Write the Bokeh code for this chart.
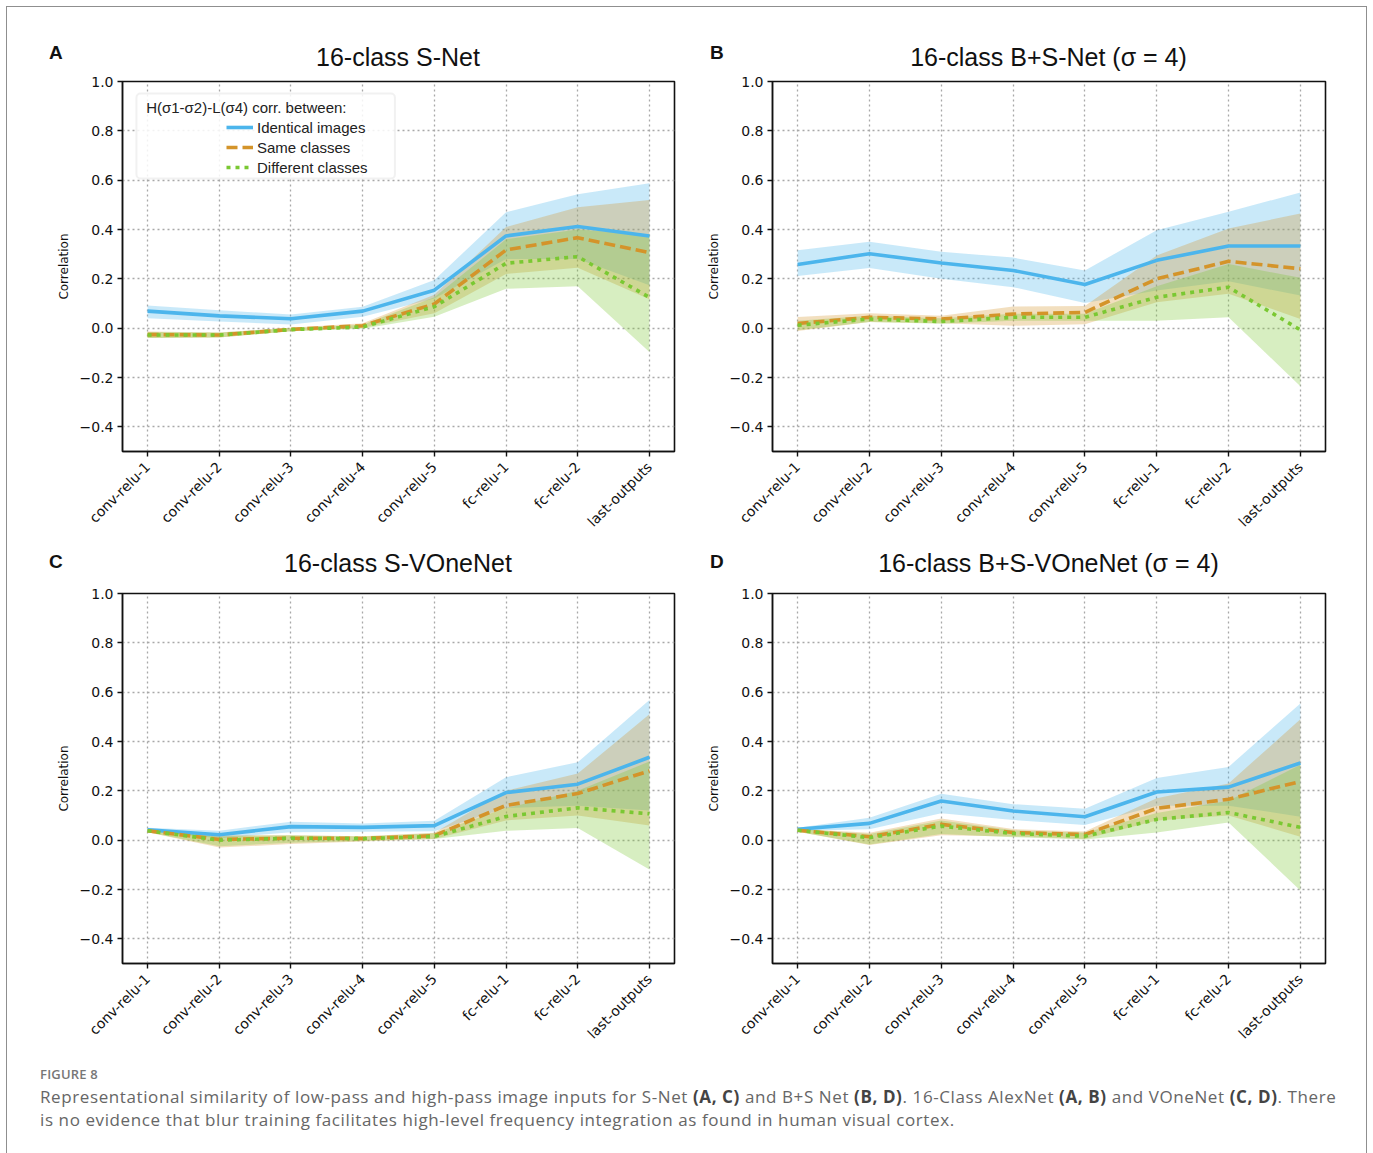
import math
from bokeh.plotting import figure
from bokeh.layouts import column, row
from bokeh.models import (Range1d, FixedTicker, CustomJSTickFormatter, Label, Legend, LegendItem,
                          BoxAnnotation, Div)
from bokeh.embed import file_html
from bokeh.resources import INLINE

layers = ["conv-relu-1", "conv-relu-2", "conv-relu-3", "conv-relu-4", "conv-relu-5",
          "fc-relu-1", "fc-relu-2", "last-outputs"]
y_ticks = [-0.4, -0.2, 0.0, 0.2, 0.4, 0.6, 0.8, 1.0]

panel_letters = ["A", "B", "C", "D"]
panel_titles = ["16-class S-Net", "16-class B+S-Net (σ = 4)",
                "16-class S-VOneNet", "16-class B+S-VOneNet (σ = 4)"]
series_names = ["Identical images", "Same classes", "Different classes"]
legend_title = "H(σ1-σ2)-L(σ4) corr. between:"

# Panel A: 16-class S-Net
a_ident = [0.069, 0.050, 0.038, 0.069, 0.154, 0.374, 0.412, 0.374]
a_ident_lo = [0.040, 0.027, 0.015, 0.046, 0.120, 0.280, 0.280, 0.174]
a_ident_hi = [0.092, 0.073, 0.055, 0.087, 0.195, 0.470, 0.543, 0.588]
a_same = [-0.026, -0.028, -0.005, 0.010, 0.098, 0.317, 0.367, 0.306]
a_same_lo = [-0.040, -0.038, -0.012, 0.002, 0.060, 0.220, 0.245, 0.117]
a_same_hi = [-0.014, -0.018, 0.002, 0.020, 0.135, 0.410, 0.490, 0.520]
a_diff = [-0.028, -0.028, -0.006, 0.005, 0.087, 0.263, 0.290, 0.125]
a_diff_lo = [-0.040, -0.038, -0.012, -0.002, 0.046, 0.160, 0.170, -0.097]
a_diff_hi = [-0.016, -0.018, 0.000, 0.014, 0.125, 0.360, 0.400, 0.380]

# Panel B: 16-class B+S-Net (sigma = 4)
b_ident = [0.258, 0.302, 0.264, 0.234, 0.177, 0.275, 0.333, 0.333]
b_ident_lo = [0.211, 0.244, 0.200, 0.166, 0.102, 0.153, 0.190, 0.132]
b_ident_hi = [0.316, 0.350, 0.310, 0.286, 0.234, 0.397, 0.472, 0.550]
b_same = [0.019, 0.044, 0.037, 0.057, 0.064, 0.200, 0.271, 0.241]
b_same_lo = [-0.011, 0.025, 0.020, 0.010, 0.016, 0.105, 0.140, 0.037]
b_same_hi = [0.045, 0.060, 0.050, 0.088, 0.090, 0.295, 0.404, 0.465]
b_diff = [0.012, 0.037, 0.027, 0.044, 0.044, 0.125, 0.166, -0.007]
b_diff_lo = [-0.008, 0.025, 0.018, 0.030, 0.030, 0.030, 0.044, -0.235]
b_diff_hi = [0.030, 0.050, 0.040, 0.058, 0.058, 0.170, 0.260, 0.204]

# Panel C: 16-class S-VOneNet
c_ident = [0.042, 0.022, 0.055, 0.052, 0.059, 0.193, 0.227, 0.336]
c_ident_lo = [0.035, 0.008, 0.032, 0.034, 0.036, 0.130, 0.140, 0.120]
c_ident_hi = [0.050, 0.038, 0.075, 0.068, 0.079, 0.255, 0.316, 0.568]
c_same = [0.038, 0.003, 0.008, 0.007, 0.018, 0.141, 0.189, 0.281]
c_same_lo = [0.032, -0.030, -0.016, -0.005, 0.005, 0.080, 0.100, 0.059]
c_same_hi = [0.044, 0.020, 0.020, 0.016, 0.030, 0.200, 0.270, 0.510]
c_diff = [0.038, 0.000, 0.008, 0.006, 0.015, 0.096, 0.131, 0.107]
c_diff_lo = [0.032, -0.025, -0.010, -0.003, 0.005, 0.038, 0.049, -0.119]
c_diff_hi = [0.044, 0.015, 0.020, 0.015, 0.028, 0.130, 0.200, 0.319]

# Panel D: 16-class B+S-VOneNet (sigma = 4)
d_ident = [0.044, 0.068, 0.159, 0.118, 0.095, 0.195, 0.215, 0.313]
d_ident_lo = [0.038, 0.044, 0.109, 0.082, 0.061, 0.140, 0.140, 0.095]
d_ident_hi = [0.050, 0.091, 0.188, 0.146, 0.127, 0.252, 0.297, 0.554]
d_same = [0.040, 0.014, 0.064, 0.031, 0.023, 0.129, 0.166, 0.238]
d_same_lo = [0.034, -0.020, 0.020, 0.015, 0.005, 0.080, 0.100, 0.014]
d_same_hi = [0.046, 0.030, 0.088, 0.045, 0.035, 0.170, 0.230, 0.490]
d_diff = [0.040, 0.010, 0.057, 0.027, 0.016, 0.084, 0.112, 0.052]
d_diff_lo = [0.034, -0.018, 0.025, 0.012, 0.003, 0.031, 0.072, -0.204]
d_diff_hi = [0.046, 0.025, 0.080, 0.040, 0.030, 0.110, 0.160, 0.306]

panels = [
    [(a_ident, a_ident_lo, a_ident_hi), (a_same, a_same_lo, a_same_hi), (a_diff, a_diff_lo, a_diff_hi)],
    [(b_ident, b_ident_lo, b_ident_hi), (b_same, b_same_lo, b_same_hi), (b_diff, b_diff_lo, b_diff_hi)],
    [(c_ident, c_ident_lo, c_ident_hi), (c_same, c_same_lo, c_same_hi), (c_diff, c_diff_lo, c_diff_hi)],
    [(d_ident, d_ident_lo, d_ident_hi), (d_same, d_same_lo, d_same_hi), (d_diff, d_diff_lo, d_diff_hi)],
]

COLORS = ["#4cb5ec", "#d4942a", "#7ac832"]
DASHES = ["solid", "11 5", "4 5"]
LW = 3.6

TICK_FONT = "DejaVu Sans"
TITLE_FONT = "Liberation Sans"

fx = list(range(len(layers)))


def make_header(i, top_row):
    left_col = (i % 2 == 0)
    w = 686 if left_col else 687
    h = 67 if top_row else 39
    frame_left = 122 if left_col else 86
    frame_w = 552 if left_col else 553
    letter_left = 49 if left_col else 24
    letter_top = 43 if top_row else 12
    title_top = 43 if top_row else 9
    html = (
        f'<div style="position:relative;width:{w}px;height:{h}px;'
        f'font-family:\'Liberation Sans\',Arial,sans-serif;color:#111;">'
        f'<span style="position:absolute;left:{letter_left}px;top:{letter_top}px;'
        f'font-size:19px;font-weight:bold;line-height:20px;">{panel_letters[i]}</span>'
        f'<span style="position:absolute;left:{frame_left}px;width:{frame_w}px;top:{title_top}px;'
        f'text-align:center;font-size:25px;line-height:28px;white-space:nowrap;">{panel_titles[i]}</span>'
        f'</div>'
    )
    return Div(text=html, width=w, height=h, margin=0)


def make_panel(i, top_row):
    left_col = (i % 2 == 0)
    w = 686 if left_col else 687
    h = (540 - 67) if top_row else (510 - 39)
    p = figure(width=w, height=h, output_backend="svg", toolbar_location=None,
               x_range=Range1d(-0.35, len(layers) - 1 + 0.35), y_range=Range1d(-0.5, 1.0),
               min_border_left=122 if left_col else 86,
               min_border_right=12 if left_col else 48,
               min_border_top=14,
               min_border_bottom=89 if top_row else 87,
               background_fill_color="white", border_fill_color=None, margin=0)
    p.border_fill_alpha = 0
    p.outline_line_color = "#111111"
    p.outline_line_width = 1.6
    p.outline_line_alpha = 1.0

    for ax in (p.xaxis[0], p.yaxis[0]):
        ax.axis_line_color = "#111111"
        ax.axis_line_width = 1.4
        ax.major_tick_line_color = "#111111"
        ax.major_tick_line_width = 1.4
        ax.major_tick_out = 5
        ax.major_tick_in = 0
        ax.minor_tick_line_color = None
        ax.major_label_text_color = "#111111"
        ax.major_label_text_font = TICK_FONT

    p.xaxis.ticker = FixedTicker(ticks=fx)
    p.xaxis.major_label_overrides = {k: name for k, name in zip(fx, layers)}
    p.xaxis.major_label_orientation = math.pi / 4
    p.xaxis.major_label_text_font_size = "14px"
    p.xaxis.major_label_standoff = 8

    p.yaxis.ticker = FixedTicker(ticks=y_ticks)
    p.yaxis.formatter = CustomJSTickFormatter(code="return tick.toFixed(1).replace('-', '\u2212');")
    p.yaxis.major_label_text_font_size = "14px"
    p.yaxis.major_label_standoff = 4
    p.yaxis.axis_label = "Correlation"
    p.yaxis.axis_label_text_font = TICK_FONT
    p.yaxis.axis_label_text_font_size = "12px"
    p.yaxis.axis_label_text_font_style = "normal"
    p.yaxis.axis_label_text_color = "#111111"
    p.yaxis.axis_label_standoff = 6

    for g in (p.xgrid[0], p.ygrid[0]):
        g.grid_line_color = "#a8a8a8"
        g.grid_line_dash = "2 3"
        g.grid_line_width = 1.3
        g.grid_line_alpha = 1.0
    p.ygrid.ticker = FixedTicker(ticks=y_ticks)
    p.xgrid.ticker = FixedTicker(ticks=fx)

    data = panels[i]
    for (mean, lo, hi), col in zip(data, COLORS):
        p.varea(x=fx, y1=lo, y2=hi, fill_color=col, fill_alpha=0.3)
    lines = []
    for (mean, lo, hi), col, dash in zip(data, COLORS, DASHES):
        r = p.line(x=fx, y=mean, line_color=col, line_width=LW, line_dash=dash,
                   line_cap="butt", line_join="round")
        lines.append(r)

    if i == 0:
        p.add_layout(BoxAnnotation(left=-0.155, right=3.45, top=0.951, bottom=0.607,
                                   fill_color="white", fill_alpha=0.85,
                                   line_color="#cfcfcf", line_width=2, border_radius=4))
        p.add_layout(Label(x=-0.02, y=0.895, text=legend_title, text_align="left",
                           text_baseline="middle", text_font=TITLE_FONT,
                           text_font_size="15px", text_color="#222222"))
        leg = Legend(items=[LegendItem(label=n, renderers=[r]) for n, r in zip(series_names, lines)],
                     location=(104, 274), padding=0, margin=0, spacing=0,
                     glyph_width=27, glyph_height=20, label_height=20, label_standoff=4,
                     label_text_font=TITLE_FONT, label_text_font_size="15px",
                     label_text_color="#222222",
                     border_line_alpha=0, background_fill_alpha=0)
        p.add_layout(leg)
    return p


cells = []
for i in range(4):
    top_row = i < 2
    cells.append(column(make_header(i, top_row), make_panel(i, top_row), spacing=0, margin=0))

caption_html = (
    '<div style="font-family:\'Open Sans\',sans-serif;color:#666;padding:16px 0 0 40px;">'
    '<div style="font-size:13px;line-height:17px;font-weight:600;color:#777;letter-spacing:0.2px;">FIGURE 8</div>'
    '<div style="font-size:17px;line-height:23px;margin-top:2px;white-space:nowrap;letter-spacing:0.6px;">'
    'Representational similarity of low-pass and high-pass image inputs for S-Net <b style="color:#444">(A, C)</b> '
    'and B+S Net <b style="color:#444">(B, D)</b>. 16-Class AlexNet <b style="color:#444">(A, B)</b> and VOneNet '
    '<b style="color:#444">(C, D)</b>. There<br>is no evidence that blur training facilitates high-level frequency '
    'integration as found in human visual cortex.</div></div>'
)
cap = Div(text=caption_html, width=1373, height=110, margin=0)

layout = column(row(cells[0], cells[1], spacing=0, margin=0),
                row(cells[2], cells[3], spacing=0, margin=0),
                cap, spacing=0, margin=0,
                styles={"outline": "1.5px solid #8f8f8f", "outline-offset": "-7px"})

open("out.html", "w").write(file_html(layout, INLINE))
